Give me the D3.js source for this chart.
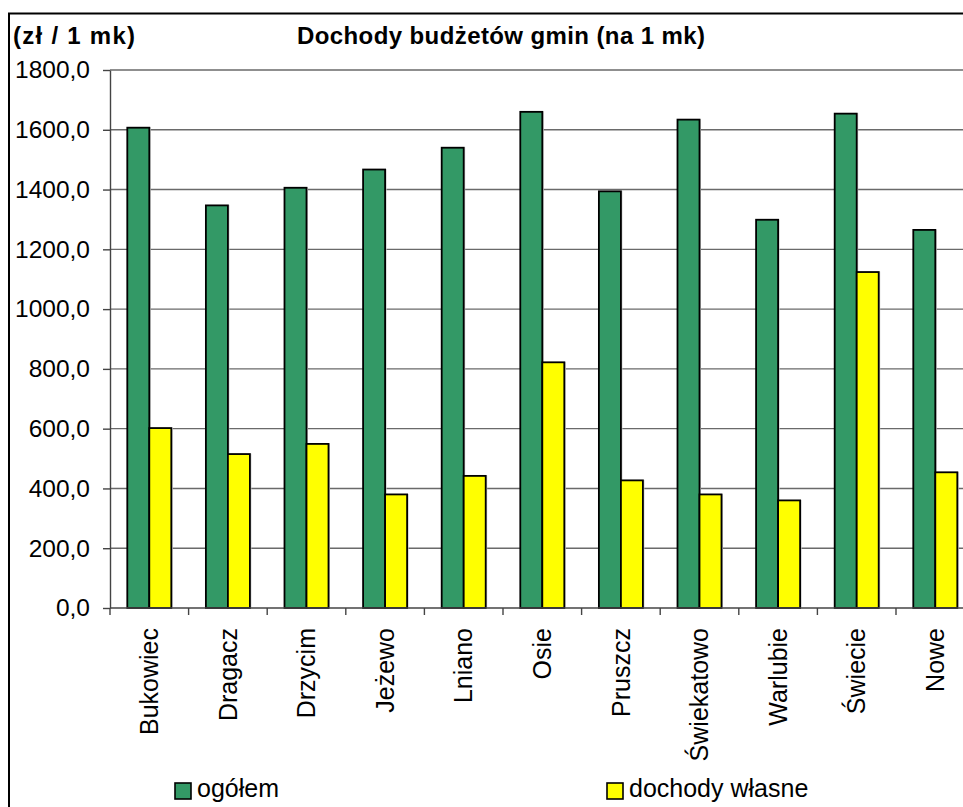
<!DOCTYPE html>
<html><head><meta charset="utf-8">
<script src="https://cdn.jsdelivr.net/npm/d3@7/dist/d3.min.js"></script>
<style>body{margin:0;background:#fff;overflow:hidden} svg{display:block;font-family:"Liberation Sans",Arial,sans-serif}</style>
</head><body><svg id="c" width="963" height="807"></svg>
<script>
const categories = ["Bukowiec","Dragacz","Drzycim","Jeżewo","Lniano","Osie","Pruszcz","Świekatowo","Warlubie","Świecie","Nowe"];
const ogolem = [1607,1347,1406,1467,1540,1660,1394,1634,1299,1654,1265];
const wlasne = [602,515,549,380,442,822,427,380,360,1124,454];
const seriesNames = ["ogółem","dochody własne"];
const seriesColors = ["#339966","#FFFF00"];
const yTicks = [0,200,400,600,800,1000,1200,1400,1600,1800];
const yTickLabels = ["0,0","200,0","400,0","600,0","800,0","1000,0","1200,0","1400,0","1600,0","1800,0"];
const titleText = "Dochody budżetów gmin (na 1 mk)";
const unitText = "(zł / 1 mk)";

(function(){
const svg = d3.select("#c");
const pLeft = 110, pRight = 974.6, pTop = 70, pBottom = 608;

const y = d3.scaleLinear().domain([0,1800]).range([pBottom, pTop]);
const x = d3.scaleBand().domain(categories).range([pLeft, pRight]).paddingInner(0.44).paddingOuter(0.22);
const xs = d3.scaleBand().domain([0,1]).range([0, x.bandwidth()]);

// frame
svg.append("rect").attr("x",9).attr("y",13.5).attr("width",1000).attr("height",1000)
  .attr("fill","#fff").attr("stroke","#000").attr("stroke-width",2);

// titles
svg.append("text").attr("x",13).attr("y",44).attr("font-size",24).attr("font-weight","bold")
  .attr("textLength",122).attr("lengthAdjust","spacing").text(unitText);
svg.append("text").attr("x",297).attr("y",44).attr("font-size",24).attr("font-weight","bold")
  .attr("textLength",408).attr("lengthAdjust","spacing").text(titleText);

// gridlines
svg.append("g").selectAll("line").data(yTicks.filter(v=>v>0)).join("line")
  .attr("x1",pLeft).attr("x2",963).attr("y1",d=>y(d)).attr("y2",d=>y(d))
  .attr("stroke","#6a6a6a").attr("stroke-width",1.4);

// y axis
const yAxis = svg.append("g").attr("transform",`translate(${pLeft},0)`)
  .call(d3.axisLeft(y).tickValues(yTicks).tickFormat((d,i)=>yTickLabels[i]).tickSize(7).tickPadding(13).tickSizeOuter(0));
yAxis.select(".domain").attr("stroke","#444").attr("stroke-width",1.4);
yAxis.selectAll(".tick line").attr("stroke","#444").attr("stroke-width",1.4);
yAxis.selectAll(".tick text").attr("font-size",24.5).attr("fill","#000")
  .attr("font-family","'Liberation Sans',Arial,sans-serif");

// bars
const groups = svg.append("g").selectAll("g").data(categories).join("g")
  .attr("transform",c=>`translate(${x(c)},0)`);
[ogolem, wlasne].forEach((vals, si) => {
  groups.append("rect")
    .attr("x", xs(si)+1.5).attr("y",(c,i)=>y(vals[i])-0.5)
    .attr("width", xs.bandwidth()).attr("height",(c,i)=>pBottom - y(vals[i]))
    .attr("fill","#c8c8c8");
  groups.append("rect")
    .attr("x", xs(si)).attr("y",(c,i)=>y(vals[i]))
    .attr("width", xs.bandwidth()).attr("height",(c,i)=>pBottom - y(vals[i]))
    .attr("fill",seriesColors[si]).attr("stroke","#000").attr("stroke-width",1.8);
});

// x axis
svg.append("line").attr("x1",pLeft).attr("x2",963).attr("y1",pBottom).attr("y2",pBottom)
  .attr("stroke","#444").attr("stroke-width",1.6);
svg.append("g").selectAll("line").data(d3.range(categories.length+1)).join("line")
  .attr("x1",i=>x.range()[0]+i*x.step()).attr("x2",i=>x.range()[0]+i*x.step())
  .attr("y1",pBottom).attr("y2",pBottom+7).attr("stroke","#444").attr("stroke-width",1.4);
svg.append("g").selectAll("text").data(categories).join("text")
  .attr("transform",c=>`translate(${x(c)+x.bandwidth()/2},628) rotate(-90)`)
  .attr("dy","0.35em").attr("text-anchor","end").attr("font-size",25).text(c=>c);

// legend
const legX = [175, 607];
seriesNames.forEach((n,i)=>{
  svg.append("rect").attr("x",legX[i]).attr("y",783).attr("width",16).attr("height",16)
    .attr("fill",seriesColors[i]).attr("stroke","#000").attr("stroke-width",1.6);
  svg.append("text").attr("x",legX[i]+22).attr("y",797).attr("font-size",25).text(n);
});
})();
</script></body></html>
